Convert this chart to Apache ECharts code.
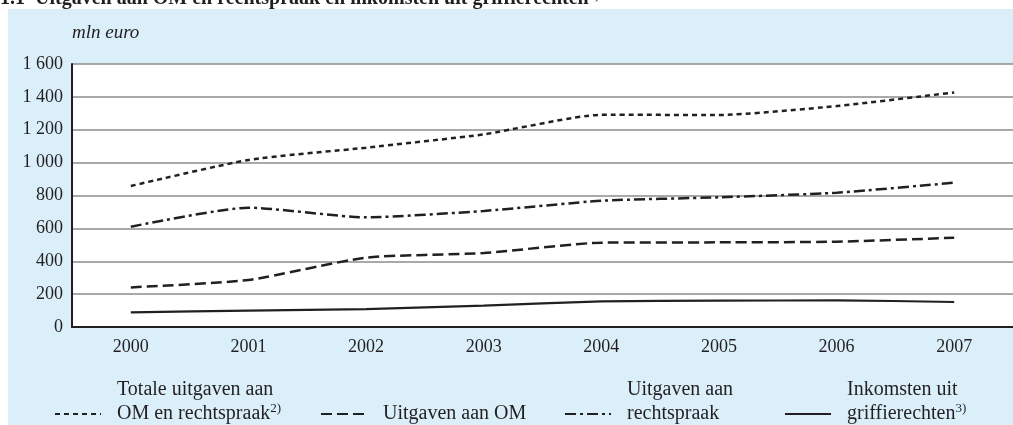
<!DOCTYPE html>
<html>
<head>
<meta charset="utf-8">
<script src="https://cdn.jsdelivr.net/npm/echarts@6/dist/echarts.min.js"></script>
<style>
  html, body { margin: 0; padding: 0; background: #fff; }
  #chart { width: 1013px; height: 425px; }
</style>
</head>
<body>
<div id="chart"></div>
<script>
// jaren en reeksen (mln euro)
var years = ['2000', '2001', '2002', '2003', '2004', '2005', '2006', '2007'];
var totaal = [858, 1016, 1091, 1172, 1291, 1290, 1344, 1427];
var om = [241, 286, 422, 450, 513, 515, 519, 543];
var rechtspraak = [610, 726, 667, 706, 768, 789, 817, 878];
var griffie = [89, 100, 109, 130, 156, 160, 162, 152];

var font = '"Liberation Serif", "Times New Roman", serif';
var ink = '#231f20';

var chart = echarts.init(document.getElementById('chart'));

function thousands(v) {
  return String(v).replace(/\B(?=(\d{3})+(?!\d))/g, ' ');
}

var sup = { fontSize: 13, fontFamily: font, color: ink, verticalAlign: 'top', padding: [0, 0, 6, 0] };

// legenda: tekst over twee regels, symbool op de onderste regel
function legendBox(name, left, twoLines) {
  return {
    data: [name],
    left: left,
    top: twoLines ? 378 : 402,
    padding: 0,
    itemWidth: 46,
    itemHeight: 14,
    selectedMode: false,
    itemStyle: { opacity: 0 },
    textStyle: {
      fontFamily: font,
      fontSize: 20,
      color: ink,
      lineHeight: 24,
      padding: twoLines ? [0, 0, 24, 11] : [0, 0, 0, 11],
      rich: { sup: sup }
    },
    formatter: function (n) {
      if (n === 'Totale uitgaven aan OM en rechtspraak') return 'Totale uitgaven aan\nOM en rechtspraak{sup|2)}';
      if (n === 'Uitgaven aan rechtspraak') return 'Uitgaven aan\nrechtspraak';
      if (n === 'Inkomsten uit griffierechten') return 'Inkomsten uit\ngriffierechten{sup|3)}';
      return n;
    }
  };
}

var option = {
  backgroundColor: '#fff',
  animation: false,
  title: {
    text: '1.1  Uitgaven aan OM en rechtspraak en inkomsten uit griffierechten{s|1)}',
    left: 0,
    top: -11,
    padding: 0,
    textStyle: {
      fontFamily: font, fontSize: 20, fontWeight: 'bold', color: ink,
      rich: { s: { fontSize: 13, fontWeight: 'bold', fontFamily: font, color: ink, verticalAlign: 'top' } }
    }
  },
  graphic: [{
    type: 'rect',
    z: -10,
    silent: true,
    shape: { x: 8, y: 9, width: 1010, height: 420 },
    style: { fill: '#daeffa' }
  }],
  grid: {
    left: 72, top: 64, width: 943, height: 263,
    show: true, backgroundColor: '#fff', borderWidth: 0
  },
  legend: [
    legendBox('Totale uitgaven aan OM en rechtspraak', 54, true),
    legendBox('Uitgaven aan OM', 320, false),
    legendBox('Uitgaven aan rechtspraak', 564, true),
    legendBox('Inkomsten uit griffierechten', 784, true)
  ],
  xAxis: {
    type: 'category',
    data: years,
    boundaryGap: true,
    axisLine: { lineStyle: { color: ink, width: 2 } },
    axisTick: { alignWithLabel: true, length: 6, lineStyle: { color: ink, width: 1 } },
    axisLabel: { fontFamily: font, fontSize: 18, color: ink, margin: 11 }
  },
  yAxis: {
    type: 'value',
    min: 0, max: 1600, interval: 200,
    name: 'mln euro',
    nameLocation: 'end',
    nameGap: 31,
    nameTextStyle: { fontFamily: font, fontSize: 19, fontStyle: 'italic', color: ink, align: 'left', verticalAlign: 'middle' },
    axisLine: { show: true, lineStyle: { color: ink, width: 2 } },
    axisTick: { show: false },
    splitLine: { lineStyle: { color: '#8c8c8c', width: 1.5 } },
    axisLabel: {
      fontFamily: font, fontSize: 18, color: ink, margin: 9,
      formatter: thousands
    }
  },
  series: [
    {
      name: 'Totale uitgaven aan OM en rechtspraak', type: 'line', data: totaal,
      symbol: 'none', smooth: 0.2,
      lineStyle: { color: ink, width: 2.5, type: [5, 4] }
    },
    {
      name: 'Uitgaven aan OM', type: 'line', data: om,
      symbol: 'none', smooth: 0.2,
      lineStyle: { color: ink, width: 2.5, type: [11, 5] }
    },
    {
      name: 'Uitgaven aan rechtspraak', type: 'line', data: rechtspraak,
      symbol: 'none', smooth: 0.2,
      lineStyle: { color: ink, width: 2.5, type: [11, 4, 3, 4] }
    },
    {
      name: 'Inkomsten uit griffierechten', type: 'line', data: griffie,
      symbol: 'none', smooth: 0.2,
      lineStyle: { color: ink, width: 2.2, type: 'solid' }
    }
  ]
};

chart.setOption(option);
</script>
</body>
</html>
